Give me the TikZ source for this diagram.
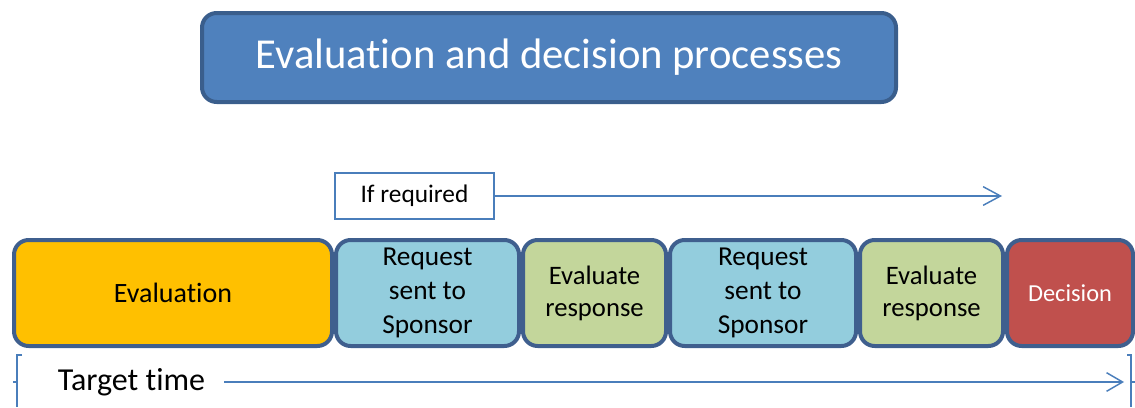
\documentclass[tikz,border=0pt]{standalone}
\usepackage{fontspec}
\setmainfont{Carlito}[Ligatures=CommonOff]
\usepackage{tikz}
\usetikzlibrary{arrows.meta,positioning}
\definecolor{titfill}{HTML}{4F81BD}
\definecolor{titline}{HTML}{3A5E8C}
\definecolor{boxline}{HTML}{3F5F8E}
\definecolor{evalyel}{HTML}{FFC000}
\definecolor{reqblue}{HTML}{93CDDD}
\definecolor{respgrn}{HTML}{C3D69B}
\definecolor{decred}{HTML}{C0504D}
\definecolor{arrblue}{HTML}{4A7EBB}
\tikzstyle{box_t} = [rectangle, rounded corners=11pt, draw=titline, fill=titfill, line width=3pt, text=white, font=\fontsize{32}{38}\selectfont, minimum width=520.5pt, minimum height=66.75pt, inner sep=0pt]
\tikzstyle{box_s} = [rectangle, rounded corners=11pt, draw=boxline, line width=3pt, minimum height=79.5pt, align=center, inner sep=0pt, font=\fontsize{20}{24}\selectfont]
\tikzstyle{box_i} = [rectangle, draw=arrblue, line width=1.1pt, fill=white, minimum width=119.25pt, minimum height=34.5pt, inner sep=0pt, font=\fontsize{19}{23}\selectfont]
\tikzstyle{arr_b} = [draw=arrblue, line width=1.1pt]

\begin{document}
\begin{tikzpicture}[x=0.75pt,y=-0.75pt,node distance=0pt]
\useasboundingbox (0,0) rectangle (1135,407);
\node [box_t] (title) at (549,57.5) {Evaluation and decision processes};
\node [box_i] (ifreq) at (414.5,196) {If required};
% stages
\node [box_s, fill=evalyel, minimum width=238.5pt, font=\fontsize{21}{25}\selectfont, anchor=west] (eval) at (12,293) {Evaluation};
\node [box_s, fill=reqblue, minimum width=137.25pt, font=\fontsize{20.5}{25.5}\selectfont, right=of eval] (req1) {Request\\sent to\\Sponsor};
\node [box_s, fill=respgrn, minimum width=107.25pt, right=of req1] (resp1) {Evaluate\\response};
\node [box_s, fill=reqblue, minimum width=139.5pt, font=\fontsize{20.5}{25.5}\selectfont, right=of resp1] (req2) {Request\\sent to\\Sponsor};
\node [box_s, fill=respgrn, minimum width=107.25pt, right=of req2] (resp2) {Evaluate\\response};
\node [box_s, fill=decred, text=white, minimum width=94.5pt, font=\fontsize{18.3}{22}\selectfont, right=of resp2] (dec) {Decision};
% arrows
\coordinate (ifend) at (1002,196);
\draw [arr_b, -{Straight Barb[length=13pt,width=14pt]}] (ifreq) -- (ifend);
\node [font=\fontsize{24}{28}\selectfont, inner xsep=14pt, anchor=west] (target) at (39,382) {Target time};
\coordinate (tgend) at (1124,382);
\draw [arr_b, -{Straight Barb[length=12pt,width=14pt]}] (target) -- (tgend);
% brackets
\coordinate (brl) at (17,382);
\coordinate (brr) at (1131,382);
\draw [arr_b] (brl) ++(5,-27) -- ++(-5,0) -- ++(0,52);
\draw [arr_b] (brl) -- ++(-4,0);
\draw [arr_b] (brr) ++(-4,-27) -- ++(4,0) -- ++(0,52);
\draw [arr_b] (brr) -- ++(4,0);
\end{tikzpicture}
\end{document}
